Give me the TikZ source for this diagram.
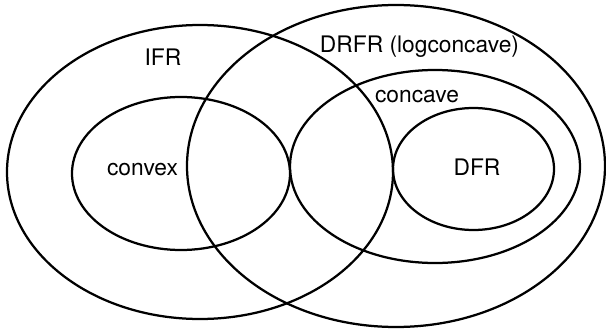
\documentclass[tikz,border=0pt]{standalone}
\usepackage{fontspec}
\setmainfont{TeX Gyre Heros}
\usepackage{tikz}
\tikzstyle{Menge}= [line width=1.6pt]
\tikzstyle{Name}= [inner sep=0pt,font=\fontsize{16.2}{19}\selectfont]

\begin{document}
\begin{tikzpicture}

		\useasboundingbox (0,0) rectangle (15.15,8.275);

		\draw [Menge] (5.0,3.975) ellipse (4.825 and 3.675);
		\draw [Menge] (4.525,3.9375) ellipse (2.725 and 1.9125);
		\draw [Menge] (9.9,4.125) ellipse (5.225 and 4.025);
		\draw [Menge] (10.875,4.1125) ellipse (3.625 and 2.4125);
		\draw [Menge] (11.8375,4.05) ellipse (2.0125 and 1.525);

		\node [Name] (ifr) at (4.075,6.85) {IFR};
		\node [Name] (convex) at (3.5625,4.025) {convex};
		\node [Name] (drfr) at (10.4875,7.1) {DRFR (logconcave)};
		\node [Name] (concave) at (10.425,5.85) {concave};
		\node [Name] (dfr) at (11.925,4.1) {DFR};

	\end{tikzpicture}
\end{document}
